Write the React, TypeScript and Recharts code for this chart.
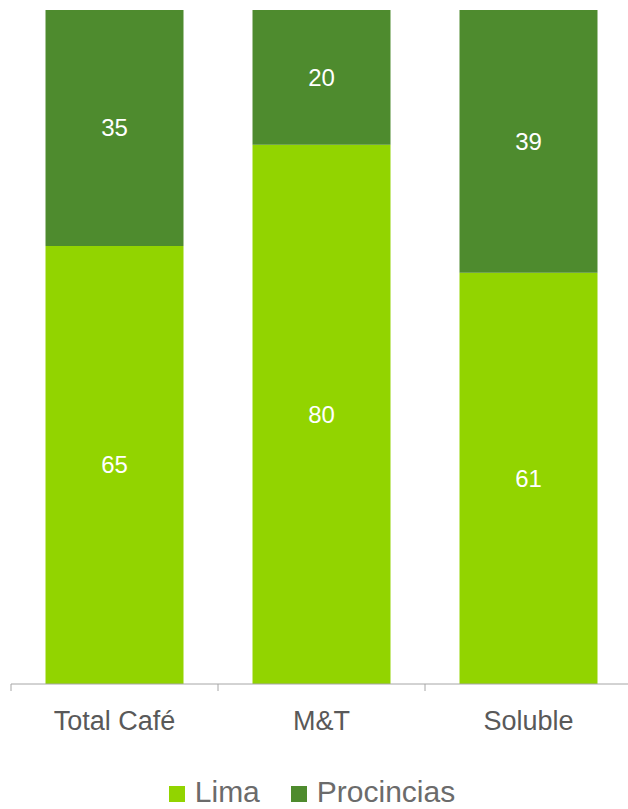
import { BarChart, Bar, XAxis, YAxis, LabelList, Legend } from "recharts";

const categories = ["Total Café", "M&T", "Soluble"];
const limaValues = [65, 80, 61];
const provinciasValues = [35, 20, 39];

const LIMA_COLOR = "#92D400";
const PROV_COLOR = "#4E8B2E";
const AXIS_COLOR = "#A6A6A6";
const TICK_MARGIN = 27;
const TICK_LEN = 7;

const data = categories.map((name, i) => ({
  name,
  lima: limaValues[i],
  procincias: provinciasValues[i],
}));

const legendItems = [
  { label: "Lima", color: LIMA_COLOR },
  { label: "Procincias", color: PROV_COLOR },
];

// category label plus excel-style tick marks on the category boundaries
function CategoryTick(props: any) {
  const { x, y, payload, index, visibleTicksCount } = props;
  const half = payload.offset || 0;
  const axisY = y - TICK_MARGIN;
  const isLast = index === visibleTicksCount - 1;
  return (
    <g>
      <line x1={x - half} x2={x - half} y1={axisY} y2={axisY + TICK_LEN} stroke={AXIS_COLOR} />
      {isLast && <line x1={x + half} x2={x + half} y1={axisY} y2={axisY + TICK_LEN} stroke={AXIS_COLOR} />}
      <text x={x} y={y} dy="0.71em" textAnchor="middle" fill="#595959" fontSize={27}>
        {payload.value}
      </text>
    </g>
  );
}

function ChartLegend() {
  return (
    <div
      style={{
        display: "flex",
        justifyContent: "center",
        alignItems: "flex-start",
        height: 30,
        fontFamily: "'Liberation Sans', Arial, sans-serif",
        fontSize: 30,
        lineHeight: "26px",
        color: "#6b6b6b",
      }}
    >
      {legendItems.map((item, i) => (
        <div key={item.label} style={{ display: "flex", alignItems: "flex-start", marginLeft: i ? 31 : 0 }}>
          <span style={{ width: 16, height: 16, marginTop: 7, marginRight: 10, background: item.color }} />
          <span>{item.label}</span>
        </div>
      ))}
    </div>
  );
}

export default function App() {
  return (
    <div style={{ position: "absolute", left: 0, top: 0, width: 628, height: 809, overflow: "hidden", background: "#fff" }}>
      <BarChart
        width={640}
        height={809}
        data={data}
        margin={{ top: 10, right: 8, left: 11, bottom: 0 }}
        barCategoryGap="16.67%"
        style={{ fontFamily: "'Liberation Sans', Arial, sans-serif" }}
      >
        <XAxis
          dataKey="name"
          axisLine={{ stroke: AXIS_COLOR }}
          tickLine={false}
          tickSize={0}
          tickMargin={TICK_MARGIN}
          height={95}
          interval={0}
          tick={<CategoryTick />}
        />
        <YAxis hide domain={[0, 100]} />
        <Legend verticalAlign="bottom" wrapperStyle={{ left: -2, width: 628 }} content={() => <ChartLegend />} />
        <Bar dataKey="lima" stackId="s" fill={LIMA_COLOR} isAnimationActive={false}>
          <LabelList dataKey="lima" position="center" fill="#fff" fontSize={24} />
        </Bar>
        <Bar dataKey="procincias" stackId="s" fill={PROV_COLOR} isAnimationActive={false}>
          <LabelList dataKey="procincias" position="center" fill="#fff" fontSize={24} />
        </Bar>
      </BarChart>
    </div>
  );
}
